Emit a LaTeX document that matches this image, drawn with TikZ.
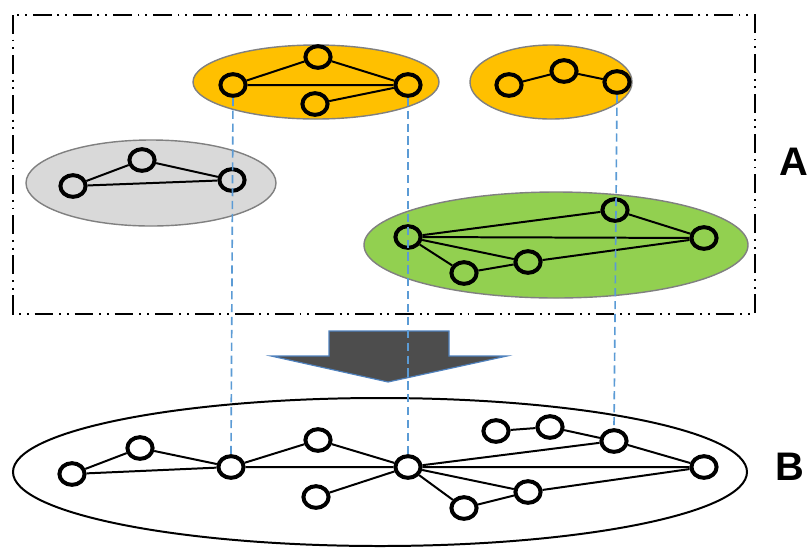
\documentclass[tikz,border=0pt]{standalone}
\usepackage{fontspec}
\setsansfont{Liberation Sans}
\usetikzlibrary{shapes.geometric}

\definecolor{grpOrange}{HTML}{FFC000}
\definecolor{grpGray}{HTML}{D9D9D9}
\definecolor{grpGreen}{HTML}{92D050}
\definecolor{rimGray}{HTML}{808080}
\definecolor{linkBlue}{HTML}{5B9BD5}
\definecolor{arrowDark}{HTML}{4D4D4D}
\definecolor{arrowRim}{HTML}{4F81BD}

\tikzset{
    vtx/.style={ellipse, draw=black, line width=3.4pt, inner sep=0pt, minimum width=21.5pt, minimum height=18.5pt},
    edge/.style={black, line width=1.7pt},
    group/.style={draw=rimGray, line width=1.2pt},
    link/.style={linkBlue, line width=1.4pt, dash pattern=on 7pt off 4pt},
    frame/.style={black, line width=1.7pt, dash pattern=on 16pt off 5pt on 1.6pt off 5pt on 1.6pt off 5pt},
    tag/.style={font=\sffamily\bfseries\fontsize{34}{34}\selectfont}
}

\begin{document}
\begin{tikzpicture}[x=0.03cm, y=-0.03cm]

        \useasboundingbox (0,0) rectangle (811,547);

        % layer A
        \draw[frame] (13,15) rectangle (755,314);
        \fill[grpOrange, group] (316,82) ellipse [x radius=123, y radius=37];
        \fill[grpOrange, group] (551,82) ellipse [x radius=81, y radius=37];
        \fill[grpGray, group] (151,183) ellipse [x radius=125, y radius=43];
        \fill[grpGreen, group] (556,245) ellipse [x radius=192, y radius=53];

        % layer B
        \draw[black, line width=1.7pt] (380,472) ellipse [x radius=367, y radius=74];

        % arrow
        \fill[arrowDark, draw=arrowRim, line width=1pt] (329,331) -- (449,331) -- (449,356) -- (507,356) -- (388,382) -- (271,356) -- (329,356) -- cycle;

        \node[vtx] (o1) at (233,85) {};
        \node[vtx] (o2) at (318,57) {};
        \node[vtx] (o3) at (408,85) {};
        \node[vtx] (o4) at (315,104) {};

        \node[vtx] (p1) at (509,85) {};
        \node[vtx] (p2) at (564,71) {};
        \node[vtx] (p3) at (617,82) {};

        \node[vtx] (g1) at (73,186) {};
        \node[vtx] (g2) at (142,160) {};
        \node[vtx] (g3) at (232,180) {};

        \node[vtx] (n1) at (408,237) {};
        \node[vtx] (n2) at (615,210) {};
        \node[vtx] (n3) at (704,238) {};
        \node[vtx] (n4) at (528,262) {};
        \node[vtx] (n5) at (464,273) {};

        \node[vtx] (b1) at (72,474) {};
        \node[vtx] (b2) at (140,448) {};
        \node[vtx] (b3) at (231,467) {};
        \node[vtx] (b4) at (318,440) {};
        \node[vtx] (b5) at (408,467) {};
        \node[vtx] (b6) at (316,497) {};
        \node[vtx] (b7) at (496,431) {};
        \node[vtx] (b8) at (550,427) {};
        \node[vtx] (b9) at (614,441) {};
        \node[vtx] (b10) at (704,467) {};
        \node[vtx] (b11) at (528,492) {};
        \node[vtx] (b12) at (464,508) {};

        \draw[edge] (o1) -- (o2) -- (o3) -- (o1);
        \draw[edge] (o4) -- (o3);
        \draw[edge] (p1) -- (p2) -- (p3);
        \draw[edge] (g1) -- (g2) -- (g3) -- (g1);
        \draw[edge] (n1) -- (n2) -- (n3) -- (n1);
        \draw[edge] (n1) -- (n4) -- (n3);
        \draw[edge] (n1) -- (n5) -- (n4);

        \draw[edge] (b1) -- (b2) -- (b3) -- (b1);
        \draw[edge] (b3) -- (b4) -- (b5) -- (b3);
        \draw[edge] (b6) -- (b5) -- (b9) -- (b10) -- (b5);
        \draw[edge] (b7) -- (b8) -- (b9);
        \draw[edge] (b5) -- (b11) -- (b10);
        \draw[edge] (b5) -- (b12) -- (b11);

        \draw[link] (o1.south) -- (b3.north);
        \draw[link] (o3.south) -- (b5.north);
        \draw[link] (p3.south) -- (b9.north);

        \node[tag] (tagA) at (794,162) {A};
        \node[tag] (tagB) at (790,467) {B};

\end{tikzpicture}
\end{document}
